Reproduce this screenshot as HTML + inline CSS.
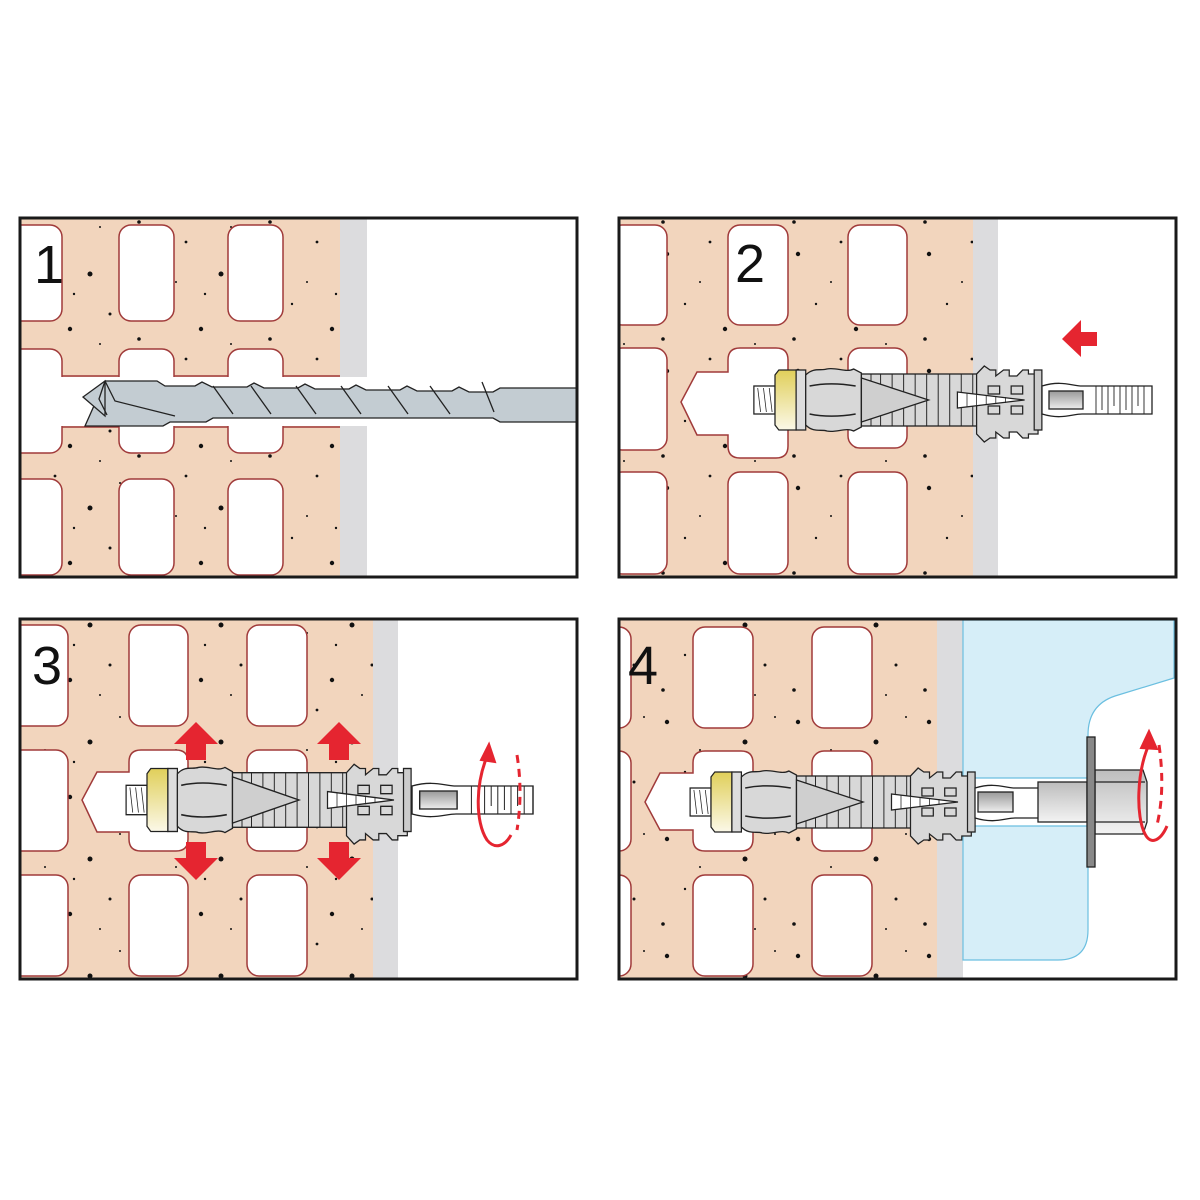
<!DOCTYPE html>
<html><head><meta charset="utf-8"><style>html,body{margin:0;padding:0;background:#fff}svg{display:block}</style></head>
<body>
<svg width="1200" height="1200" viewBox="0 0 1200 1200" xmlns="http://www.w3.org/2000/svg" font-family="Liberation Sans, sans-serif">
<defs>
<clipPath id="c1"><rect x="20" y="218" width="557" height="359"/></clipPath>
<clipPath id="c2"><rect x="619" y="218" width="557" height="359"/></clipPath>
<clipPath id="c3"><rect x="20" y="619" width="557" height="360"/></clipPath>
<clipPath id="c4"><rect x="619" y="619" width="557" height="360"/></clipPath>
<pattern id="dots" width="131" height="117" patternUnits="userSpaceOnUse">
<circle cx="12" cy="20" r="2.2" fill="#111"/><circle cx="55" cy="8" r="1.4" fill="#111"/><circle cx="90" cy="40" r="2.5" fill="#111"/>
<circle cx="30" cy="70" r="1.2" fill="#111"/><circle cx="70" cy="95" r="2.2" fill="#111"/><circle cx="110" cy="80" r="1.5" fill="#111"/>
<circle cx="120" cy="15" r="1" fill="#111"/><circle cx="45" cy="48" r="1" fill="#111"/><circle cx="8" cy="105" r="1.8" fill="#111"/>
<circle cx="100" cy="110" r="1" fill="#111"/><circle cx="74" cy="60" r="1.2" fill="#111"/>
</pattern>
<linearGradient id="yel" x1="0" y1="0" x2="0" y2="1"><stop offset="0" stop-color="#e0cf5a"/><stop offset="1" stop-color="#fbf8e8"/></linearGradient>
<linearGradient id="met" x1="0" y1="0" x2="0" y2="1"><stop offset="0" stop-color="#999"/><stop offset="1" stop-color="#eee"/></linearGradient>
<linearGradient id="nut" x1="0" y1="0" x2="0" y2="1"><stop offset="0" stop-color="#bdbdbd"/><stop offset="1" stop-color="#f3f3f3"/></linearGradient>
<g id="dowel" stroke="#222" stroke-width="1.3">
<rect x="-22" y="-14" width="22" height="28" fill="#fff"/>
<path d="M-18,-12l3,24M-12,-12l3,24M-6,-12l3,24" fill="none" stroke-width="0.8"/>
<path d="M4,-30h18v60h-18l-4,-5v-50z" fill="url(#yel)"/>
<rect x="22" y="-30" width="10" height="60" fill="#ddd"/>
<path d="M32,-25c8,-8 16,-4 22,-6c10,-2 20,4 28,0l8,4v54l-8,4c-8,-4 -18,2 -28,0c-6,-2 -14,2 -22,-6z" fill="#d8d8d8"/>
<path d="M36,-14c15,-3 30,-3 48,0M36,14c15,3 30,3 48,0" fill="none" stroke-width="1.5"/>
<rect x="90" y="-26" width="125" height="52" fill="#d8d8d8"/>
<path d="M100,-26v52M110,-26v52M122,-26v52M134,-26v52M146,-26v52M158,-26v52M170,-26v52M182,-26v52M194,-26v52M206,-26v52" fill="none" stroke-width="1"/>
<path d="M90,-22l70,22l-70,22z" fill="#cfcfcf"/>
<path d="M210,-26l8,-8l6,4h6v6l8,-6h6v6h8l6,-6h6v4h10v60h-10v4h-6l-6,-6h-8v6h-6l-8,-6v6h-6l-6,4l-8,-8z" fill="#d8d8d8"/>
<path d="M222,-14h12v8h-12zM246,-14h12v8h-12zM222,6h12v8h-12zM246,6h12v8h-12z" fill="#d8d8d8"/>
<path d="M190,-8l70,8l-70,8z" fill="#fff"/>
<path d="M200,-7v14M210,-6v12M220,-5v10M230,-4v8M240,-3v6" stroke-width="0.8"/>
<rect x="270" y="-30" width="8" height="60" fill="#ccc"/>
</g>
<g id="stud" stroke="#222" stroke-width="1.3">
<path d="M0,-14c20,-6 30,0 40,0h70v28h-70c-10,0 -20,6 -40,0z" fill="#fff"/>
<rect x="7" y="-9" width="34" height="18" fill="url(#met)"/>
<path d="M54,-14v28M60,-14v24M66,-14v28M72,-14v20M78,-14v28M84,-14v24M90,-14v28M96,-14v20M102,-14v28" fill="none" stroke-width="0.9"/>
</g>
<g id="arrUp"><path d="M0,-22l-22,22h12v16h20v-16h12z" fill="#e52530"/></g>
</defs>

<!-- PANEL 1 -->
<g clip-path="url(#c1)">
<rect x="20" y="218" width="320" height="359" fill="#f2d5bd"/>
<rect x="20" y="218" width="320" height="359" fill="url(#dots)"/>
<rect x="340" y="218" width="27" height="359" fill="#dcdcde"/>
<rect x="367" y="218" width="210" height="359" fill="#fff"/>
<g fill="#fff" stroke="#a03a3a" stroke-width="1.5">
<rect x="8" y="225" width="54" height="96" rx="12"/><rect x="119" y="225" width="55" height="96" rx="12"/><rect x="228" y="225" width="55" height="96" rx="12"/>
<rect x="8" y="349" width="54" height="104" rx="12"/><rect x="119" y="349" width="55" height="104" rx="12"/><rect x="228" y="349" width="55" height="104" rx="12"/>
<rect x="8" y="479" width="54" height="96" rx="12"/><rect x="119" y="479" width="55" height="96" rx="12"/><rect x="228" y="479" width="55" height="96" rx="12"/>
</g>
<rect x="21" y="377" width="346" height="49" fill="#fff"/>
<path d="M62,376H119M174,376H228M283,376H340M62,427H119M174,427H228M283,427H340" stroke="#a03a3a" stroke-width="1.5"/>
<text x="34" y="283" font-size="54" fill="#111">1</text>
<g stroke="#222" stroke-width="1.3" fill="#c3ccd2">
<path d="M105,381h52l8,5h30l7,-4l10,5h35l7,-4l10,5h34l7,-4l10,5h34l7,-4l10,5h34l7,-4l10,5h35l7,-4l10,5h24l7,-4h90v34h-90l-7,-4h-280l-7,4h-36l-7,4h-78z"/>
<path d="M105,381l-22,16l22,19z"/>
<path d="M105,381l-6,18l8,16M105,381l10,20l60,15" fill="none"/>
<path d="M213,386l20,28M251,386l20,28M296,386l20,28M341,386l20,28M388,386l20,28M430,386l20,28M482,382l12,30" fill="none"/>
</g>
</g>
<rect x="20" y="218" width="557" height="359" fill="none" stroke="#1a1a1a" stroke-width="3"/>

<!-- PANEL 2 -->
<g clip-path="url(#c2)">
<rect x="619" y="218" width="354" height="359" fill="#f2d5bd"/>
<rect x="619" y="218" width="354" height="359" fill="url(#dots)"/>
<rect x="973" y="218" width="25" height="359" fill="#dcdcde"/>
<rect x="998" y="218" width="178" height="359" fill="#fff"/>
<g fill="#fff" stroke="#a03a3a" stroke-width="1.5">
<rect x="610" y="225" width="57" height="100" rx="12"/><rect x="728" y="225" width="60" height="100" rx="12"/><rect x="848" y="225" width="59" height="100" rx="12"/>
<rect x="610" y="348" width="57" height="102" rx="12"/><rect x="848" y="348" width="59" height="100" rx="12"/>
<rect x="610" y="472" width="57" height="102" rx="12"/><rect x="728" y="472" width="60" height="102" rx="12"/><rect x="848" y="472" width="59" height="102" rx="12"/>
<path d="M740,348h36q12,0 12,12v86q0,12 -12,12h-36q-12,0 -12,-12v-11h-31l-16,-33l16,-30h31v-12q0,-12 12,-12z"/>
</g>
<text x="735" y="282" font-size="54" fill="#111">2</text>
<use href="#dowel" transform="translate(775,400) scale(0.96,1)"/>
<use href="#stud" transform="translate(1042,400)"/>
<path d="M1062,339l19,-19v12h16v14h-16v11z" fill="#e52530"/>
</g>
<rect x="619" y="218" width="557" height="359" fill="none" stroke="#1a1a1a" stroke-width="3"/>

<!-- PANEL 3 -->
<g clip-path="url(#c3)">
<rect x="20" y="619" width="353" height="360" fill="#f2d5bd"/>
<rect x="20" y="619" width="353" height="360" fill="url(#dots)"/>
<rect x="373" y="619" width="25" height="360" fill="#dcdcde"/>
<rect x="398" y="619" width="179" height="360" fill="#fff"/>
<g fill="#fff" stroke="#a03a3a" stroke-width="1.5">
<rect x="10" y="625" width="58" height="101" rx="12"/><rect x="129" y="625" width="59" height="101" rx="12"/><rect x="247" y="625" width="60" height="101" rx="12"/>
<rect x="10" y="750" width="58" height="101" rx="12"/><rect x="247" y="750" width="60" height="101" rx="12"/>
<rect x="10" y="875" width="58" height="101" rx="12"/><rect x="129" y="875" width="59" height="101" rx="12"/><rect x="247" y="875" width="60" height="101" rx="12"/>
<path d="M141,750h35q12,0 12,12v77q0,12 -12,12h-35q-12,0 -12,-12v-7h-32l-15,-32l15,-28h32v-10q0,-12 12,-12z"/>
</g>
<text x="32" y="684" font-size="54" fill="#111">3</text>
<use href="#dowel" transform="translate(147,800) scale(0.95,1.05)"/>
<use href="#stud" transform="translate(412,800) scale(1.1,1)"/>
<use href="#arrUp" transform="translate(196,744)"/>
<use href="#arrUp" transform="translate(339,744)"/>
<use href="#arrUp" transform="translate(196,858) scale(1,-1)"/>
<use href="#arrUp" transform="translate(339,858) scale(1,-1)"/>
<path d="M489,752c-14,30 -14,70 -2,88c8,10 18,6 24,-5" fill="none" stroke="#e52530" stroke-width="3"/>
<path d="M481,760l8,-16l6,18z" fill="#e52530" stroke="#e52530" stroke-width="2"/>
<path d="M517,755c4,25 4,50 0,75" fill="none" stroke="#e52530" stroke-width="3" stroke-dasharray="8,6"/>
</g>
<rect x="20" y="619" width="557" height="360" fill="none" stroke="#1a1a1a" stroke-width="3"/>

<!-- PANEL 4 -->
<g clip-path="url(#c4)">
<rect x="619" y="619" width="318" height="360" fill="#f2d5bd"/>
<rect x="619" y="619" width="318" height="360" fill="url(#dots)"/>
<rect x="937" y="619" width="26" height="360" fill="#dcdcde"/>
<rect x="963" y="619" width="213" height="360" fill="#fff"/>
<path d="M963,620H1174V678L1115,696Q1088,705 1088,735V930Q1088,960 1058,960H963z" fill="#d6eef8" stroke="#6bbfe0" stroke-width="1.2"/>
<rect x="963" y="778" width="125" height="48" fill="#fff"/>
<path d="M963,778H1088M963,826H1088" stroke="#6bbfe0" stroke-width="1.2"/>
<g fill="#fff" stroke="#a03a3a" stroke-width="1.5">
<rect x="600" y="627" width="31" height="101" rx="12"/><rect x="693" y="627" width="60" height="101" rx="12"/><rect x="812" y="627" width="60" height="101" rx="12"/>
<rect x="600" y="751" width="31" height="100" rx="12"/><rect x="812" y="751" width="60" height="100" rx="12"/>
<rect x="600" y="875" width="31" height="101" rx="12"/><rect x="693" y="875" width="60" height="101" rx="12"/><rect x="812" y="875" width="60" height="101" rx="12"/>
<path d="M705,751h36q12,0 12,12v76q0,12 -12,12h-36q-12,0 -12,-12v-9h-33l-15,-28l15,-29h33v-10q0,-12 12,-12z"/>
</g>
<text x="628" y="684" font-size="54" fill="#111">4</text>
<use href="#dowel" transform="translate(711,802) scale(0.95,1)"/>
<g stroke="#222" stroke-width="1.3">
<path d="M975,788c20,-6 30,0 40,0h25v30h-25c-10,0 -20,6 -40,0z" fill="#fff"/>
<rect x="978" y="792" width="35" height="20" fill="url(#met)"/>
<rect x="1038" y="782" width="49" height="40" fill="url(#nut)"/>
<path d="M1095,770h48l4,12v40l-4,12h-48z" fill="url(#nut)"/>
<path d="M1095,782h50M1095,822h50" fill="none"/>
<rect x="1087" y="737" width="8" height="130" fill="#888"/>
</g>
<path d="M1150,742c-14,30 -14,75 -5,92c6,12 16,6 22,-8" fill="none" stroke="#e52530" stroke-width="3"/>
<path d="M1141,748l8,-17l8,18z" fill="#e52530" stroke="#e52530" stroke-width="2"/>
<path d="M1159,745c4,28 4,55 -2,80" fill="none" stroke="#e52530" stroke-width="3" stroke-dasharray="8,6"/>
</g>
<rect x="619" y="619" width="557" height="360" fill="none" stroke="#1a1a1a" stroke-width="3"/>
</svg>
</body></html>
